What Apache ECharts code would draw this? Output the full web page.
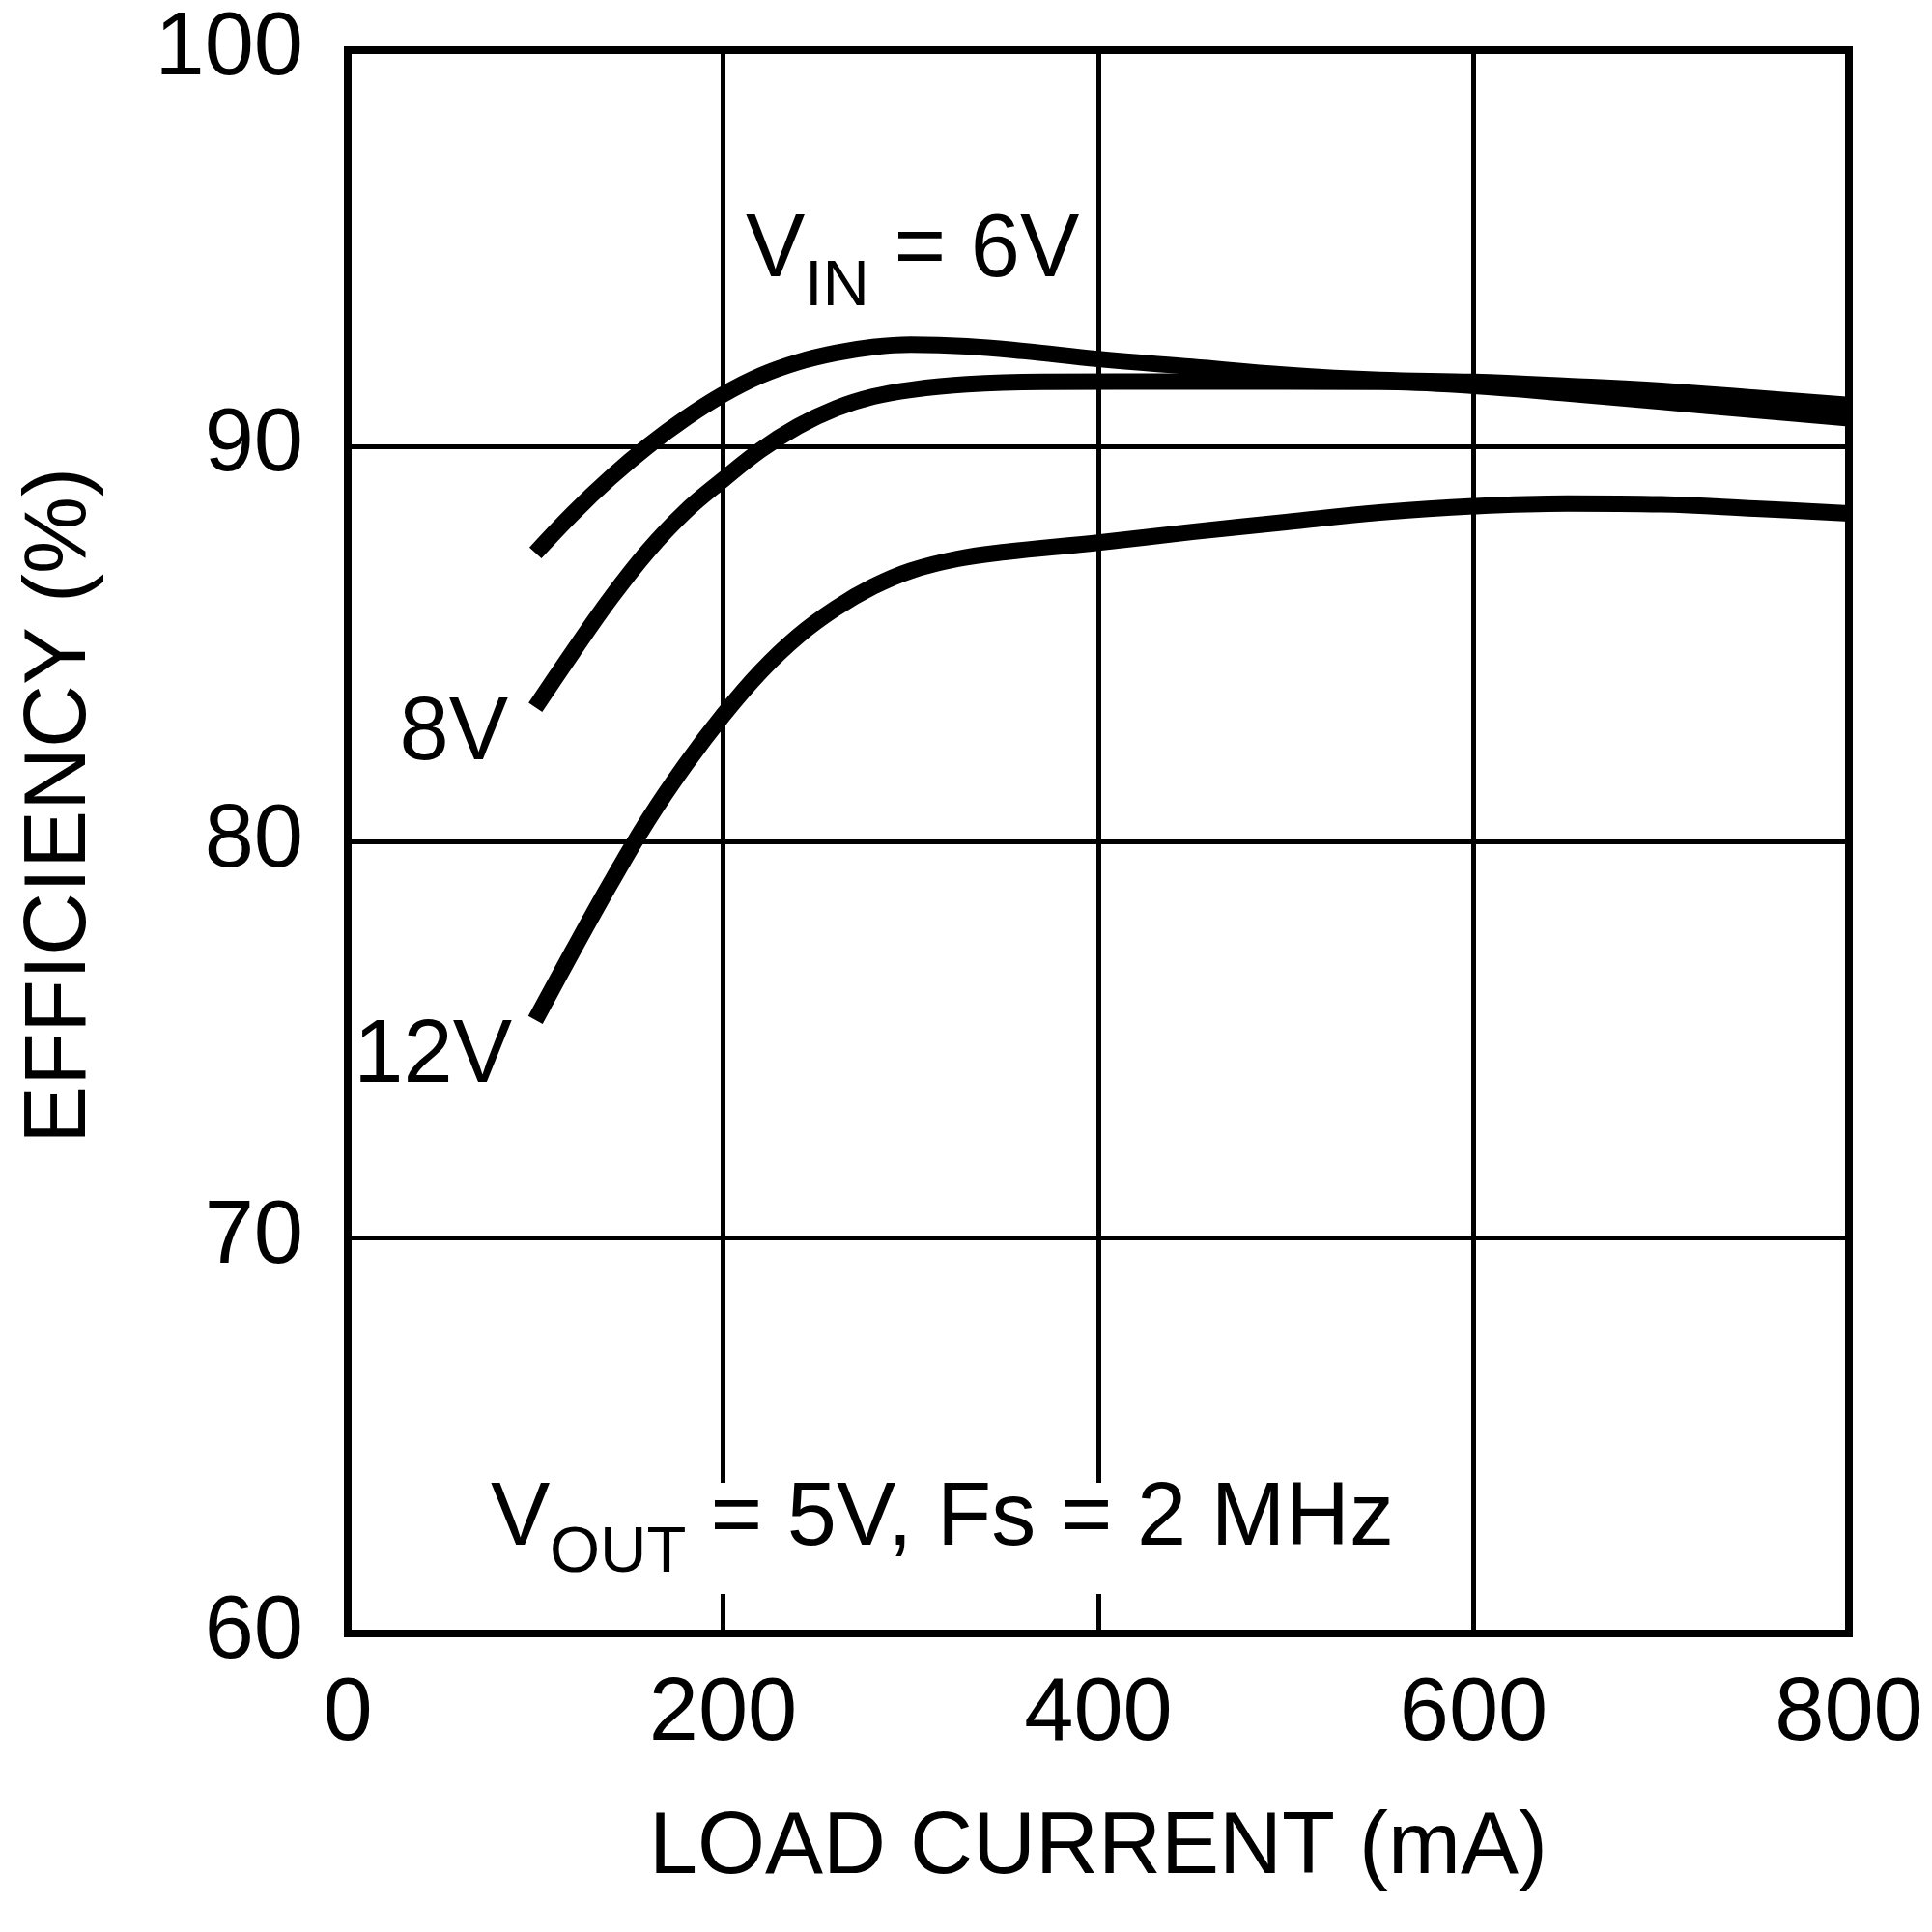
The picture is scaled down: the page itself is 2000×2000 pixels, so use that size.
<!DOCTYPE html>
<html>
<head>
<meta charset="utf-8">
<script src="https://cdn.jsdelivr.net/npm/echarts@6/dist/echarts.min.js"></script>
<style>html,body{margin:0;padding:0;background:#fff}#c{width:2000px;height:2000px}</style>
</head>
<body>
<div id="c"></div>
<script>
// ---- data ----
const xTicks = [0, 200, 400, 600, 800];
const yTicks = [60, 70, 80, 90, 100];

const load6V = [100,120,140,160,180,200,220,240,260,280,300,330,360,400,450,500,550,600,650,700,750,800];
const eff6V  = [87.3,88.3,89.2,90.0,90.7,91.3,91.78,92.12,92.35,92.5,92.56,92.52,92.4,92.2,92.0,91.8,91.67,91.62,91.52,91.4,91.22,91.04];

const load8V = [100,120,140,160,180,200,220,240,260,280,300,330,370,450,550,600,650,700,750,800];
const eff8V  = [83.4,84.8,86.15,87.35,88.35,89.15,89.9,90.5,90.95,91.25,91.42,91.56,91.62,91.63,91.62,91.52,91.33,91.12,90.91,90.7];

const load12V = [100,120,140,160,180,200,220,240,260,280,300,325,350,400,450,500,550,600,650,700,750,800];
const eff12V  = [75.5,77.25,78.95,80.55,81.95,83.2,84.3,85.2,85.9,86.45,86.85,87.15,87.32,87.56,87.83,88.08,88.32,88.48,88.55,88.53,88.42,88.3];

const xTitle = 'LOAD CURRENT (mA)';
const yTitle = 'EFFICIENCY (%)';

// ---- chart ----
const FONT = '"Liberation Sans", Arial, Helvetica, sans-serif';
const pairs = (xs, ys) => xs.map((x, i) => [x, ys[i]]);
const lineSeries = (name, xs, ys) => ({
  name, type: 'line', data: pairs(xs, ys), showSymbol: false, symbol: 'none',
  smooth: 0.4,
  lineStyle: { color: '#000', width: 17, cap: 'butt', join: 'round' },
  silent: true, animation: false, z: 3
});
function txt(text, x, y, size, align, extra) {
  return Object.assign({
    type: 'text', x: x, y: y, z: 20,
    style: { text: text, x: 0, y: 0, font: 'normal ' + size + 'px ' + FONT, fill: '#000',
             align: align, textAlign: align, verticalAlign: 'middle', textVerticalAlign: 'middle' }
  }, extra || {});
}

const chart = echarts.init(document.getElementById('c'), null, { renderer: 'canvas' });
chart.setOption({
  animation: false,
  backgroundColor: '#fff',
  grid: { left: 360, right: 86, top: 52, bottom: 309, show: true, borderColor: '#000', borderWidth: 8, backgroundColor: 'transparent', z: 5 },
  xAxis: {
    type: 'value', min: xTicks[0], max: xTicks[xTicks.length - 1], interval: 200,
    axisLine: { show: false }, axisTick: { show: false },
    splitLine: { show: true, lineStyle: { color: '#000', width: 5 } },
    axisLabel: { color: '#000', fontSize: 92, fontFamily: FONT, margin: 39,
                 formatter: v => xTicks.indexOf(v) >= 0 ? String(v) : '' }
  },
  yAxis: {
    type: 'value', min: yTicks[0], max: yTicks[yTicks.length - 1], interval: 10,
    axisLine: { show: false }, axisTick: { show: false },
    splitLine: { show: true, lineStyle: { color: '#000', width: 5 } },
    axisLabel: { color: '#000', fontSize: 92, fontFamily: FONT, margin: 46,
                 formatter: v => yTicks.indexOf(v) >= 0 ? String(v) : '' }
  },
  series: [
    lineSeries('6V', load6V, eff6V),
    lineSeries('8V', load8V, eff8V),
    lineSeries('12V', load12V, eff12V)
  ],
  graphic: [
    { type: 'rect', z: 15, shape: { x: 500, y: 1535, width: 945, height: 115 }, style: { fill: '#fff' } },
    txt(xTitle, 1137, 1914, 90, 'center'),
    txt(yTitle, 63, 834, 90, 'center', { rotation: Math.PI / 2 }),
    txt('V', 772, 261, 92, 'left'),
    txt('IN', 833, 298, 67, 'left'),
    txt(' = 6V', 900, 261, 92, 'left'),
    txt('8V', 526, 761, 92, 'right'),
    txt('12V', 530, 1095, 92, 'right'),
    txt('V', 508, 1574, 92, 'left'),
    txt('OUT', 569, 1609, 67, 'left'),
    txt(' = 5V, Fs = 2 MHz', 710, 1574, 92, 'left')
  ]
});
</script>
</body>
</html>
